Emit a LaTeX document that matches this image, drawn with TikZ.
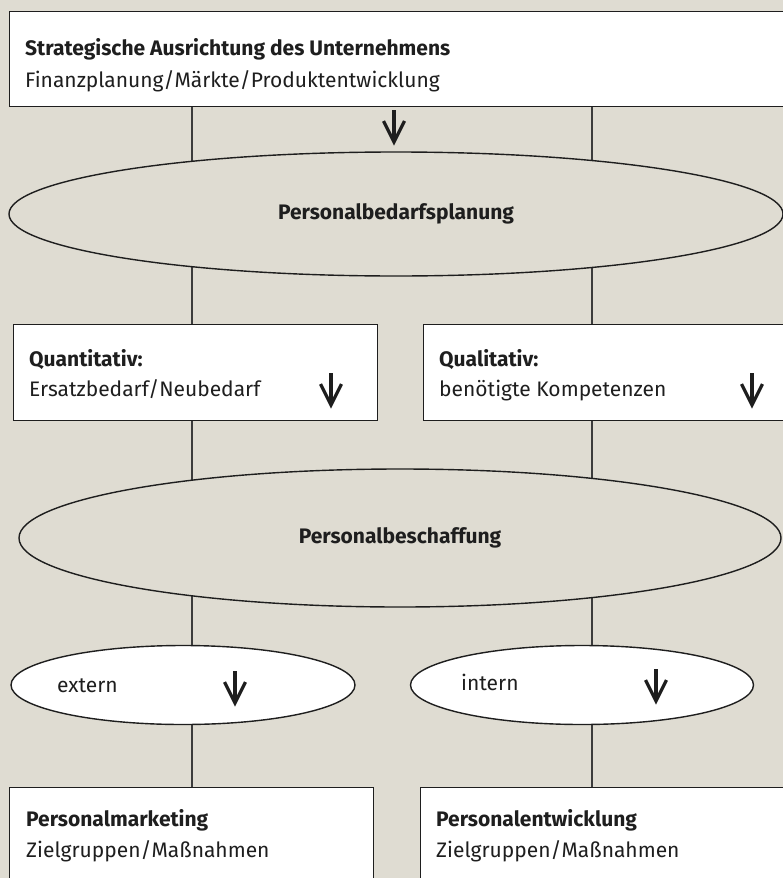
\documentclass[tikz,border=0pt]{standalone}
\usepackage{fontspec}
\setmainfont{Fira Sans}
\usetikzlibrary{shapes.geometric}
\definecolor{bg}{HTML}{DFDCD2}
\definecolor{ink}{HTML}{1E1E1E}
\definecolor{lineg}{HTML}{3C3C3C}
\begin{document}
\begin{tikzpicture}[x=1pt,y=-1pt,
  box/.style={draw=ink, line width=1.4pt, fill=white, rectangle, inner sep=0pt, anchor=north west},
  ell/.style={draw=ink, line width=1.4pt, ellipse, inner sep=0pt},
  vline/.style={draw=lineg, line width=1.4pt},
  bt/.style={font=\fontsize{21}{25}\selectfont\bfseries, anchor=base west, inner sep=0pt, text=ink},
  nt/.style={font=\fontsize{21}{25}\selectfont, anchor=base west, inner sep=0pt, text=ink},
  ct/.style={font=\fontsize{21}{25}\selectfont\bfseries, text=ink},
  darrow/.pic={
    \draw[line width=3.3pt, ink] (0,0) -- (0,30);
    \draw[line width=3.3pt, ink, line join=miter, miter limit=20] (-10.5,11) -- (0,32) -- (10.5,11);
  }
]
\useasboundingbox (0,0) rectangle (783,878);
\fill[bg] (0,0) rectangle (783,878);
\clip (0,0) rectangle (783,878);

\coordinate (l1) at (192,0);
\coordinate (l2) at (592,0);

% nodes (shapes)
\node[box, minimum width=800pt, minimum height=95pt] (strat) at (9,11) {};
\node[box, minimum width=364pt, minimum height=96pt] (quant) at (13,324) {};
\node[box, minimum width=400pt, minimum height=96pt] (qual) at (423,324) {};
\node[box, minimum width=364pt, minimum height=120pt] (pm) at (9,787) {};
\node[box, minimum width=400pt, minimum height=120pt] (pe) at (420,787) {};

% vertical lines behind ellipses
\draw[vline] (strat.south -| l1) -- (pm.north -| l1);
\draw[vline] (strat.south -| l2) -- (pe.north -| l2);

% redraw boxes over lines
\node[box, minimum width=364pt, minimum height=96pt] at (13,324) {};
\node[box, minimum width=400pt, minimum height=96pt] at (423,324) {};

\node[ell, fill=bg, minimum width=774pt, minimum height=124pt, ct] (pbp) at (396,214) {Personalbedarfsplanung};
\node[ell, fill=bg, minimum width=762pt, minimum height=138pt, ct] (pbs) at (400,538) {Personalbeschaffung};
\node[ell, fill=white, minimum width=344pt, minimum height=79pt] (ext) at (183,685) {};
\node[ell, fill=white, minimum width=343pt, minimum height=79pt] (int) at (582,685) {};

% texts
\node[bt] (t1) at (25,55) {Strategische Ausrichtung des Unternehmens};
\node[nt] (t2) at (25,87) {Finanzplanung/Märkte/Produktentwicklung};
\node[bt] (t3) at (29,366) {Quantitativ:};
\node[nt] (t4) at (29,396) {Ersatzbedarf/Neubedarf};
\node[bt] (t5) at (439,366) {Qualitativ:};
\node[nt] (t6) at (439,396) {benötigte Kompetenzen};
\node[nt] (t7) at (57,692) {extern};
\node[nt] (t8) at (461,690) {intern};
\node[bt] (t9) at (26,826) {Personalmarketing};
\node[nt] (t10) at (26,857) {Zielgruppen/Maßnahmen};
\node[bt] (t11) at (436,826) {Personalentwicklung};
\node[nt] (t12) at (436,857) {Zielgruppen/Maßnahmen};

% arrows
\pic at (394,110) {darrow};
\pic at (331,373) {darrow};
\pic at (752,373) {darrow};
\pic at (235,671) {darrow};
\pic at (656,669) {darrow};
\end{tikzpicture}
\end{document}
